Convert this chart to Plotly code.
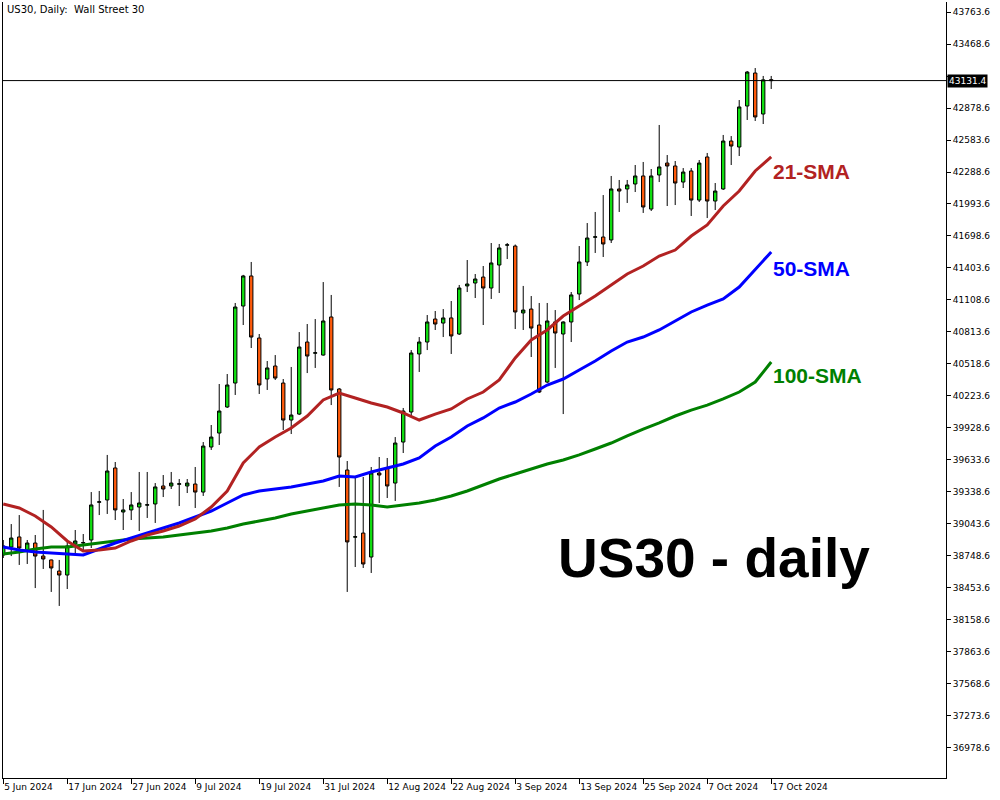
import pandas as pd
import plotly.graph_objects as go

# ---- data ----
dates = [d.strftime("%Y-%m-%d") for d in pd.bdate_range("2024-06-05", "2024-10-17")]

opens = [38758, 38831, 38924, 38804, 38868, 38748, 38712, 38610, 38573, 38859,
         38868, 38896, 39244, 39265, 39560, 39154, 39173, 39200, 39217, 39228,
         39394, 39394, 39410, 39394, 39412, 39338, 39753, 39882, 40122, 40343,
         41053, 41330, 40758, 40380, 40500, 40343, 40002, 40057, 40721, 40618,
         40601, 40952, 40288, 39541, 38922, 38960, 38739, 39514, 39560, 39421,
         39799, 40076, 40611, 40721, 40933, 40896, 40943, 40795, 41238, 41265,
         41320, 41219, 41431, 41614, 41606, 40989, 41025, 40878, 40352, 40906,
         40795, 40906, 41164, 41459, 41687, 41689, 41662, 42132, 42132, 42178,
         42252, 41947, 42261, 42371, 42344, 42196, 42298, 42030, 42427, 42021,
         42132, 42574, 42519, 42897, 43201, 42823, 43140]
highs = [38896, 39043, 39126, 38896, 38942, 39173, 38715, 38712, 38878, 38988,
         38951, 39338, 39348, 39680, 39615, 39274, 39338, 39523, 39523, 39421,
         39495, 39523, 39458, 39458, 39569, 39799, 39956, 40334, 40426, 41081,
         41340, 41459, 40795, 40546, 40601, 40380, 40491, 40813, 40887, 40933,
         41274, 41155, 40297, 39624, 39477, 39477, 39569, 39661, 39652, 39845,
         40113, 40647, 40767, 40970, 41007, 41025, 41099, 41247, 41477, 41348,
         41422, 41634, 41625, 41634, 41620, 41238, 41145, 41081, 41081, 41016,
         40912, 41182, 41606, 41818, 41920, 42076, 42252, 42215, 42215, 42353,
         42381, 42316, 42722, 42445, 42390, 42325, 42325, 42399, 42464, 42187,
         42630, 42620, 42952, 43220, 43247, 43174, 43174]
lows = [38730, 38748, 38666, 38675, 38453, 38629, 38417, 38288, 38444, 38776,
        38785, 38822, 39126, 39136, 39080, 38988, 39080, 38979, 39099, 39053,
        39292, 39366, 39209, 39329, 39191, 39302, 39726, 39772, 40113, 40233,
        40878, 40666, 40242, 40279, 40371, 39910, 39873, 40048, 40435, 40482,
        40595, 40140, 39385, 38417, 38647, 38638, 38592, 39237, 39283, 39256,
        39698, 40030, 40445, 40647, 40832, 40767, 40611, 40786, 41182, 41127,
        40878, 41118, 41173, 41486, 40841, 40832, 40583, 40251, 40343, 40482,
        40057, 40721, 41108, 41422, 41542, 41505, 41634, 41920, 42003, 42104,
        41911, 41929, 42196, 41975, 41984, 42141, 41883, 42012, 41864, 41938,
        42123, 42353, 42436, 42768, 42759, 42731, 43054]
closes = [38841, 38914, 38822, 38868, 38748, 38721, 38638, 38573, 38841, 38887,
          38872, 39219, 39248, 39532, 39173, 39173, 39219, 39237, 39221, 39385,
          39366, 39421, 39414, 39421, 39338, 39762, 39845, 40085, 40325, 41044,
          41330, 40767, 40325, 40482, 40389, 40002, 40048, 40675, 40592, 40622,
          40915, 40279, 39661, 38878, 38926, 38675, 39514, 39495, 39394, 39790,
          40085, 40620, 40721, 40906, 40887, 40943, 40777, 41219, 41256, 41302,
          41219, 41450, 41588, 41617, 40998, 41016, 40850, 40260, 40915, 40804,
          40906, 41155, 41459, 41680, 41691, 41625, 42132, 42113, 42169, 42252,
          41966, 42252, 42335, 42344, 42187, 42288, 42030, 42371, 42021, 42113,
          42574, 42528, 42888, 43210, 42796, 43138, 43131.4]

# moving averages, read every second bar
sma21 = [39228, 39191, 39117, 39016, 38887, 38795, 38804, 38822, 38887, 38942,
         38979, 39025, 39090, 39200, 39348, 39606, 39753, 39845, 39928, 40039,
         40187, 40251, 40205, 40159, 40122, 40067, 40002, 40057, 40104, 40196,
         40260, 40371, 40574, 40740, 40832, 40961, 41053, 41145, 41247, 41348,
         41422, 41514, 41569, 41698, 41800, 41975, 42113, 42298, 42427]
sma50 = [38831, 38804, 38785, 38776, 38767, 38758, 38813, 38868, 38914, 38960,
         39007, 39053, 39108, 39163, 39237, 39311, 39348, 39366, 39385, 39412,
         39440, 39486, 39477, 39523, 39560, 39597, 39652, 39762, 39845, 39947,
         40021, 40113, 40168, 40242, 40325, 40380, 40463, 40546, 40638, 40721,
         40767, 40832, 40915, 40998, 41062, 41118, 41228, 41385, 41551]
sma100 = [38767, 38785, 38813, 38831, 38831, 38850, 38868, 38887, 38905, 38914,
          38924, 38942, 38960, 38979, 39007, 39043, 39071, 39099, 39136, 39163,
          39191, 39219, 39228, 39219, 39200, 39219, 39237, 39265, 39302, 39348,
          39403, 39458, 39504, 39550, 39597, 39633, 39680, 39735, 39790, 39855,
          39919, 39975, 40039, 40094, 40140, 40196, 40260, 40352, 40537]
sma_dates = dates[::2]

last_price = 43131.4

x_tick_labels = ["5 Jun 2024", "17 Jun 2024", "27 Jun 2024", "9 Jul 2024", "19 Jul 2024",
                 "31 Jul 2024", "12 Aug 2024", "22 Aug 2024", "3 Sep 2024", "13 Sep 2024",
                 "25 Sep 2024", "7 Oct 2024", "17 Oct 2024"]
x_tick_dates = dates[::8]

y_ticks = [36978.6, 37273.6, 37568.6, 37863.6, 38158.6, 38453.6, 38748.6, 39043.6,
           39338.6, 39633.6, 39928.6, 40223.6, 40518.6, 40813.6, 41108.6, 41403.6,
           41698.6, 41993.6, 42288.6, 42583.6, 42878.6, 43173.6, 43468.6, 43763.6]
y_tick_text = ["" if abs(v - last_price) < 100 else f"{v:.1f}" for v in y_ticks]

# ---- figure ----
FONT = "DejaVu Sans"
fig = go.Figure()

fig.add_trace(go.Candlestick(
    x=dates, open=opens, high=highs, low=lows, close=closes,
    increasing=dict(fillcolor="#10E010", line=dict(color="black", width=1)),
    decreasing=dict(fillcolor="#FF5A0A", line=dict(color="black", width=1)),
    whiskerwidth=0, showlegend=False, hoverinfo="skip",
))

for vals, col in [(sma100, "#008000"), (sma50, "#0000FF"), (sma21, "#B22222")]:
    fig.add_trace(go.Scatter(x=sma_dates, y=vals, mode="lines",
                             line=dict(color=col, width=3),
                             showlegend=False, hoverinfo="skip"))

fig.add_shape(type="line", xref="paper", x0=0, x1=1, yref="y",
              y0=last_price, y1=last_price, line=dict(color="black", width=1))

L, R, T, B = 3, 946, 2, 778
def px(xp):
    return (xp - L) / (R - L)
def py(yp):
    return (B - yp) / (B - T)

annos = [
    dict(text="US30, Daily: \u00a0Wall Street 30", x=px(5), y=py(10), xanchor="left",
         yanchor="middle", font=dict(family=FONT, size=10, color="black")),
    dict(text="<b>21-SMA</b>", x=px(771), y=py(171), xanchor="left", yanchor="middle",
         font=dict(family="Liberation Sans", size=21, color="#B22222")),
    dict(text="<b>50-SMA</b>", x=px(771), y=py(268), xanchor="left", yanchor="middle",
         font=dict(family="Liberation Sans", size=21, color="#0000FF")),
    dict(text="<b>100-SMA</b>", x=px(771), y=py(376), xanchor="left", yanchor="middle",
         font=dict(family="Liberation Sans", size=21, color="#008000")),
    dict(text="<b>US30 - daily</b>", x=px(556), y=py(558), xanchor="left", yanchor="middle",
         font=dict(family="Liberation Sans", size=55, color="black")),
]
for a in annos:
    fig.add_annotation(xref="paper", yref="paper", showarrow=False, **a)

fig.add_annotation(xref="paper", yref="y", x=1, y=last_price, xanchor="left", yanchor="middle",
                   xshift=1, showarrow=False, text="43131.4", bgcolor="black", borderpad=1,
                   font=dict(family=FONT, size=9, color="white"))

fig.update_layout(
    width=1000, height=800,
    margin=dict(l=L, r=1000 - R, t=T, b=800 - B, autoexpand=False),
    paper_bgcolor="white", plot_bgcolor="white",
    boxgap=0.4, hovermode=False,
    font=dict(family=FONT, size=9, color="black"),
)
fig.update_xaxes(
    type="category", range=[-0.03, 117.85], rangeslider_visible=False,
    tickmode="array", tickvals=x_tick_dates, ticktext=x_tick_labels, tickangle=0,
    ticks="outside", ticklen=5, tickcolor="black", ticklabelposition="outside right",
    automargin=False,
    showgrid=False, zeroline=False, showline=True, linecolor="black", linewidth=1,
    tickfont=dict(family=FONT, size=9, color="black"),
)
fig.update_yaxes(
    side="right", range=[36701.8, 43855.8], automargin=False,
    tickmode="array", tickvals=y_ticks, ticktext=y_tick_text,
    ticks="outside", ticklen=4, tickcolor="black",
    showgrid=False, zeroline=False, showline=True, linecolor="black", linewidth=1, mirror=True,
    tickfont=dict(family=FONT, size=9, color="black"),
)

fig.write_html(
    "out.html",
    config={"displayModeBar": False},
    post_script="document.body.style.margin='0';document.body.style.overflow='hidden';",
)
